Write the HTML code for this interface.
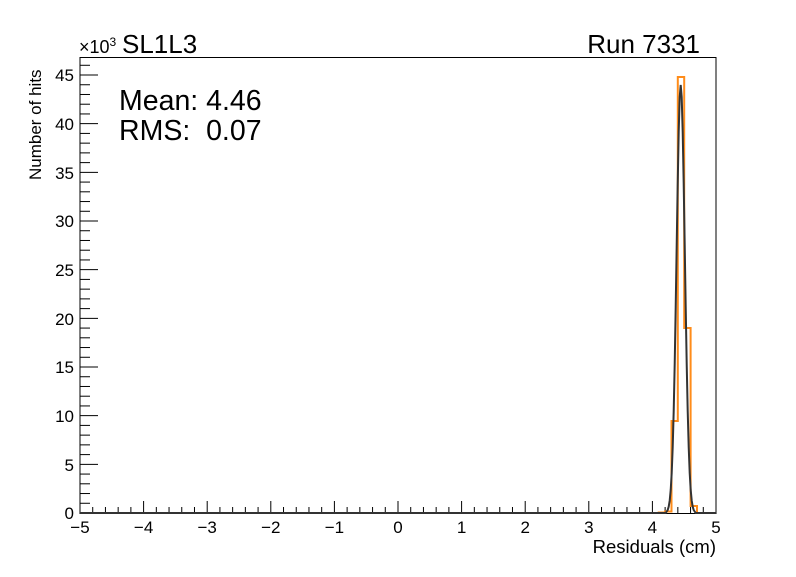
<!DOCTYPE html>
<html><head><meta charset="utf-8"><style>
body{margin:0;background:#fff}
svg text{font-family:"Liberation Sans",sans-serif;fill:#000;white-space:pre}
</style></head><body>
<svg width="796" height="572" xmlns="http://www.w3.org/2000/svg">
<rect x="0" y="0" width="796" height="572" fill="#fff"/>
<rect x="80" y="57.5" width="636" height="456" fill="none" stroke="#000" stroke-width="1"/>
<g id="xt" stroke="#000" stroke-width="1"></g>
<g id="yt" stroke="#000" stroke-width="1"></g>
<g font-size="17" text-anchor="middle">
<text x="80" y="533">−5</text><text x="143.6" y="533">−4</text><text x="207.2" y="533">−3</text><text x="270.8" y="533">−2</text><text x="334.4" y="533">−1</text><text x="398" y="533">0</text><text x="461.6" y="533">1</text><text x="525.2" y="533">2</text><text x="588.8" y="533">3</text><text x="652.4" y="533">4</text><text x="716" y="533">5</text>
</g>
<g font-size="17" text-anchor="end">
<text x="74" y="519">0</text><text x="74" y="471">5</text><text x="74" y="422">10</text><text x="74" y="373">15</text><text x="74" y="325">20</text><text x="74" y="276">25</text><text x="74" y="227">30</text><text x="74" y="179">35</text><text x="74" y="130">40</text><text x="74" y="81">45</text>
</g>
<text x="716" y="553" font-size="18.5" text-anchor="end">Residuals (cm)</text>
<text transform="translate(41,180) rotate(-90)" font-size="17">Number of hits</text>
<text x="79" y="53" font-size="18">×10<tspan font-size="12" dy="-7">3</tspan></text>
<text x="122" y="53" font-size="26">SL1L3</text>
<text x="700" y="53" font-size="26" text-anchor="end">Run 7331</text>
<text x="119" y="110" font-size="28.5">Mean: 4.46</text>
<text x="119" y="140" font-size="28.5">RMS:  0.07</text>
<path d="M80,513 L658.7,513 L658.7,512.5 L665.1,512.5 L665.1,511.5 L671.5,511.5 L671.5,421 L677.8,421 L677.8,77 L684.2,77 L684.2,328 L690.6,328 L690.6,506 L697,506 L697,513 L716,513" fill="none" stroke="#ff8c1a" stroke-width="2"/>
<polyline fill="none" stroke="#333" stroke-width="2" points="80,513 665.7,513 667.7,510 668.7,506.7 669.7,500.6 670.7,490 671.7,473 672.7,447 673.7,411 674.7,364 675.7,307 676.7,245 677.7,184 678.7,132 679.7,97 680.7,85 681.7,97 682.7,132 683.7,184 684.7,245 685.7,307 686.7,364 687.7,411 688.7,447 689.7,473 690.7,490 691.7,500.6 692.7,506.7 693.7,510 695.7,513 716,513"/>
</svg>
<script>
var ns="http://www.w3.org/2000/svg";
var xt=document.getElementById("xt"),yt=document.getElementById("yt");
function ln(g,x1,y1,x2,y2){var l=document.createElementNS(ns,"line");l.setAttribute("x1",x1);l.setAttribute("y1",y1);l.setAttribute("x2",x2);l.setAttribute("y2",y2);g.appendChild(l);}
for(var i=0;i<=50;i++){var x=80+i*12.72;var len=(i%5==0)?12:6;ln(xt,x,513,x,513-len);}
for(var j=0;j<=46;j++){var y=513-j*9.733;var len=(j%5==0)?18:10;ln(yt,80,y,80+len,y);}
</script>
</body></html>
